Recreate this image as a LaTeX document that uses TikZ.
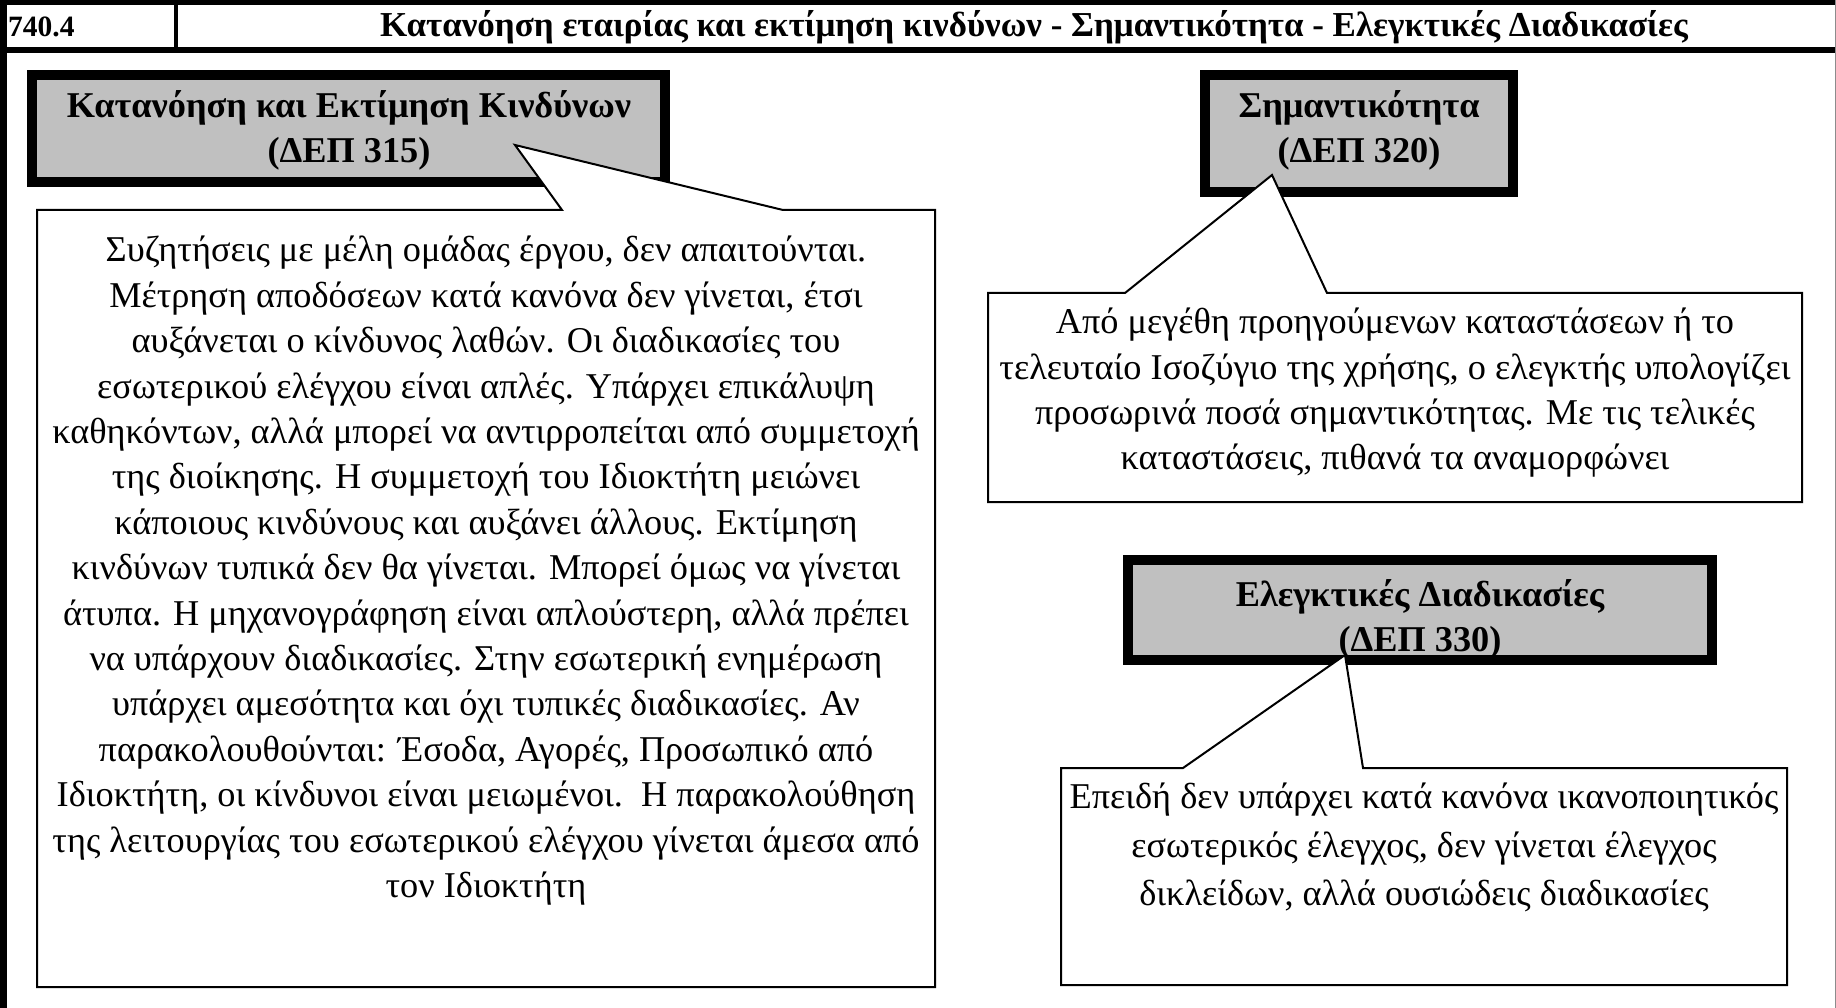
\documentclass[tikz,border=0pt]{standalone}
\usepackage{fontspec}
\setmainfont{Liberation Serif}
\definecolor{boxgray}{RGB}{192,192,192}
\begin{document}
\begin{tikzpicture}[x=1pt,y=-1pt,
  hdrbox/.style={draw=black, line width=10pt, fill=boxgray, inner sep=0pt},
  callout/.style={draw=black, line width=2pt, fill=white, line join=miter},
  bodytext/.style={font=\fontsize{36.3}{45.4}\selectfont, align=center, inner sep=0pt, anchor=north},
  titletext/.style={font=\bfseries\fontsize{36.3}{45}\selectfont, align=center, inner sep=0pt},
  headtext/.style={font=\bfseries\fontsize{35}{40}\selectfont, inner sep=0pt}]
\useasboundingbox (0,0) rectangle (1836,1008);
\fill[white] (0,0) rectangle (1836,1008);

% frame and header row
\draw[line width=5pt] (0,2.5) -- (1836,2.5);
\draw[line width=6pt] (0,50) -- (1836,50);
\draw[line width=7pt] (3.5,0) -- (3.5,1008);
\draw[line width=4pt] (176,0) -- (176,50);
\draw[line width=1pt, black!45] (1835.5,0) -- (1835.5,1008);
\node[headtext, anchor=west, font=\bfseries\fontsize{29.5}{34}\selectfont] (num) at (8,27) {740.4};
\node[headtext, anchor=east] (title) at (1688,27) {Κατανόηση εταιρίας και εκτίμηση κινδύνων - Σημαντικότητα - Ελεγκτικές Διαδικασίες};

% gray heading boxes
\node[hdrbox, minimum width=633pt, minimum height=107pt] (b1) at (348.5,128.5) {};
\node[hdrbox, minimum width=308pt, minimum height=117pt] (b2) at (1359,133.5) {};
\node[hdrbox, minimum width=584pt, minimum height=100pt] (b3) at (1420,610) {};

% callout 1
\coordinate (t1) at (515,145);
\coordinate (c1a) at (37,210);
\coordinate (c1l) at (562,210);
\coordinate (c1r) at (783,210);
\coordinate (c1b) at (935,210);
\coordinate (c1c) at (935,987);
\coordinate (c1d) at (37,987);
\draw[callout] (c1a) -- (c1l) -- (t1) -- (c1r) -- (c1b) -- (c1c) -- (c1d) -- cycle;

% callout 2
\coordinate (t2) at (1272,175);
\coordinate (c2a) at (988,293);
\coordinate (c2l) at (1125,293);
\coordinate (c2r) at (1327,293);
\coordinate (c2b) at (1802,293);
\coordinate (c2c) at (1802,502);
\coordinate (c2d) at (988,502);
\draw[callout] (c2a) -- (c2l) -- (t2) -- (c2r) -- (c2b) -- (c2c) -- (c2d) -- cycle;

% callout 3
\coordinate (t3) at (1345,655);
\coordinate (c3a) at (1061,768);
\coordinate (c3l) at (1183,768);
\coordinate (c3r) at (1363,768);
\coordinate (c3b) at (1787,768);
\coordinate (c3c) at (1787,985);
\coordinate (c3d) at (1061,985);
\draw[callout] (c3a) -- (c3l) -- (t3) -- (c3r) -- (c3b) -- (c3c) -- (c3d) -- cycle;

% heading texts
\node[titletext] (h1) at (349,130.5) {Κατανόηση και Εκτίμηση Κινδύνων\\(ΔΕΠ 315)};
\node[titletext] (h2) at (1359,130.5) {Σημαντικότητα\\(ΔΕΠ 320)};
\node[titletext] (h3) at (1420,619) {Ελεγκτικές Διαδικασίες\\(ΔΕΠ 330)};

% body texts
\node[bodytext] (x1) at (486,236) {Συζητήσεις με μέλη ομάδας έργου, δεν απαιτούνται.\\
Μέτρηση αποδόσεων κατά κανόνα δεν γίνεται, έτσι\\
αυξάνεται ο κίνδυνος λαθών. Οι διαδικασίες του\\
εσωτερικού ελέγχου είναι απλές. Υπάρχει επικάλυψη\\
καθηκόντων, αλλά μπορεί να αντιρροπείται από συμμετοχή\\
της διοίκησης. Η συμμετοχή του Ιδιοκτήτη μειώνει\\
κάποιους κινδύνους και αυξάνει άλλους. Εκτίμηση\\
κινδύνων τυπικά δεν θα γίνεται. Μπορεί όμως να γίνεται\\
άτυπα. Η μηχανογράφηση είναι απλούστερη, αλλά πρέπει\\
να υπάρχουν διαδικασίες. Στην εσωτερική ενημέρωση\\
υπάρχει αμεσότητα και όχι τυπικές διαδικασίες. Αν\\
παρακολουθούνται: Έσοδα, Αγορές, Προσωπικό από\\
Ιδιοκτήτη, οι κίνδυνοι είναι μειωμένοι.\ \ Η παρακολούθηση\\
της λειτουργίας του εσωτερικού ελέγχου γίνεται άμεσα από\\
τον Ιδιοκτήτη};
\node[bodytext] (x2) at (1395,308) {Από μεγέθη προηγούμενων καταστάσεων ή το\\
τελευταίο Ισοζύγιο της χρήσης, ο ελεγκτής υπολογίζει\\
προσωρινά ποσά σημαντικότητας. Με τις τελικές\\
καταστάσεις, πιθανά τα αναμορφώνει};
\node[bodytext, font=\fontsize{36.3}{48.5}\selectfont] (x3) at (1424,783) {Επειδή δεν υπάρχει κατά κανόνα ικανοποιητικός\\
εσωτερικός έλεγχος, δεν γίνεται έλεγχος\\
δικλείδων, αλλά ουσιώδεις διαδικασίες};
\end{tikzpicture}
\end{document}
